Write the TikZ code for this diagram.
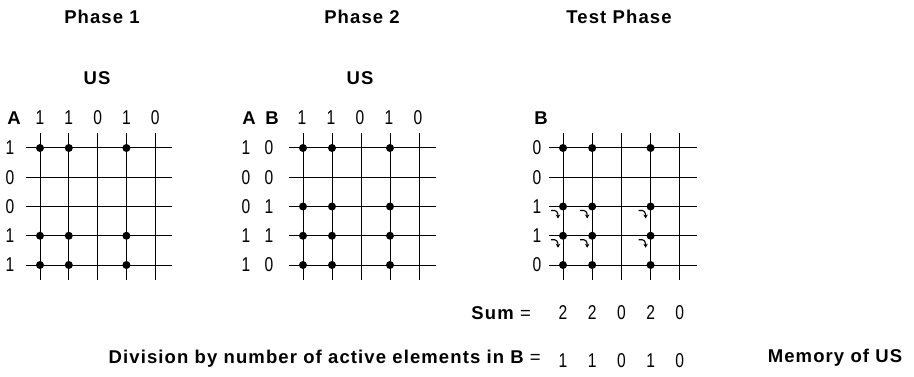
\documentclass[tikz,border=0pt]{standalone}
\usepackage{fontspec}
\setmainfont{Liberation Sans}
\newfontfamily\lblfont[LetterSpace=6]{Liberation Sans}
\newfontfamily\digfont[FakeStretch=0.78]{Liberation Sans}
\usetikzlibrary{arrows.meta,calc}
\tikzset{
 lbl/.style={inner sep=0pt, font=\lblfont\bfseries\fontsize{18.5}{20}\selectfont},
 dig/.style={inner sep=0pt, font=\digfont\fontsize{20}{22}\selectfont},
 gridline/.style={line width=1pt},
 dot/.style={circle, fill, inner sep=0pt, minimum size=8pt},
 hook/.style={line width=1.1pt, -{Stealth[length=4pt,width=4.5pt]}}
}
\begin{document}
\begin{tikzpicture}[x=1pt,y=-1pt]
\useasboundingbox (0,0) rectangle (914,377);
% titles
\node[lbl] (t1) at (102,17) {Phase 1};
\node[lbl] (t2) at (362,17) {Phase 2};
\node[lbl] (t3) at (619,17) {Test Phase};
\node[lbl] (us1) at (97,78) {US};
\node[lbl] (us2) at (360,78) {US};
% grids
\foreach \g/\xo/\dx in {1/40/28.8, 2/303/29, 3/563/29.2}{
  \foreach \i in {0,...,4}{
    \draw[gridline] (\xo-14,148+\i*29.25) -- (\xo+4*\dx+17,148+\i*29.25);
    \draw[gridline] (\xo+\i*\dx,133) -- (\xo+\i*\dx,280);
  }
}
% dots grid 1
\foreach \r in {0,3,4}{\foreach \c in {0,1,3}{
  \node[dot] (a-\r-\c) at (40+\c*28.8,148+\r*29.25) {};}}
% dots grid 2
\foreach \r in {0,2,3,4}{\foreach \c in {0,1,3}{
  \node[dot] (b-\r-\c) at (303+\c*29,148+\r*29.25) {};}}
% dots grid 3
\foreach \r in {0,2,3,4}{\foreach \c in {0,1,3}{
  \node[dot] (c-\r-\c) at (563+\c*29.2,148+\r*29.25) {};}}
% hooks in test phase
\foreach \r in {2,3}{\foreach \c in {0,1,3}{
  \coordinate (hs-\r-\c) at ($(c-\r-\c)+(-12,4)$);
  \coordinate (he-\r-\c) at ($(c-\r-\c)+(-5,12)$);
  \draw[hook] (hs-\r-\c) .. controls ($(hs-\r-\c)+(6,-1)$) and ($(he-\r-\c)+(0,-6)$) .. (he-\r-\c);
}}
% column headers
\node[lbl] (ha) at (14,118) {A};
\foreach \v [count=\k from 0] in {1,1,0,1,0}{
  \node[dig] (ca-\k) at (40+\k*28.8,118) {\v};
  \node[dig] (cb-\k) at (302+\k*29,118) {\v};
}
\node[lbl] (hab) at (249,118) {A};
\node[lbl] (hbb) at (272,118) {B};
\node[lbl] (hb) at (541,118) {B};
% row labels
\foreach \v [count=\k from 0] in {1,0,0,1,1}{
  \node[dig] (ra-\k) at (10,148+\k*29.25) {\v};
  \node[dig] (rba-\k) at (246,148+\k*29.25) {\v};
}
\foreach \v [count=\k from 0] in {0,0,1,1,0}{
  \node[dig] (rbb-\k) at (269,148+\k*29.25) {\v};
  \node[dig] (rc-\k) at (537,148+\k*29.25) {\v};
}
% sum
\node[lbl, anchor=east] (sum) at (531,313) {Sum {\mdseries =}};
\foreach \v [count=\k from 0] in {2,2,0,2,0}{
  \node[dig] (s-\k) at (563+\k*29.2,313) {\v};}
% division
\node[lbl, anchor=east] (div) at (541,359) {Division by number of active elements in B {\mdseries =}};
\foreach \v [count=\k from 0] in {1,1,0,1,0}{
  \node[dig] (d-\k) at (563+\k*29.2,361) {\v};}
\node[lbl] (mem) at (835,358) {Memory of US};
\end{tikzpicture}
\end{document}
